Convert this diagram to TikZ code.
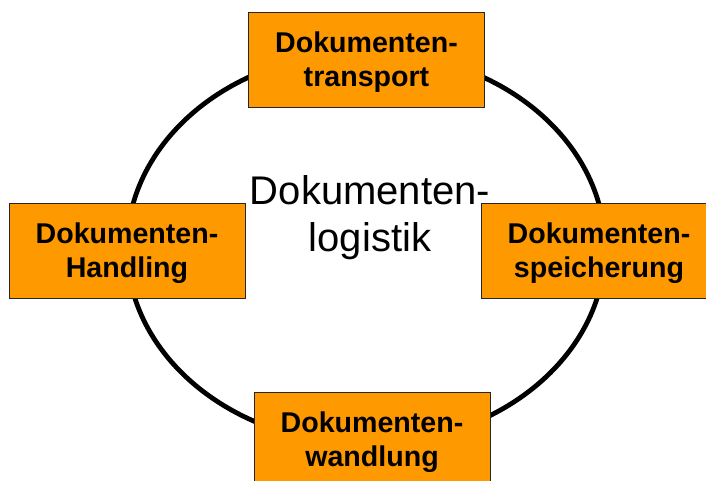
\documentclass[tikz,border=0pt]{standalone}
\usepackage{fontspec}
\setmainfont{Liberation Sans}
\usepackage{xcolor}
\usepackage{tikz}
\definecolor{orangeDoku}{RGB}{255,153,0}

\begin{document}
\begin{tikzpicture}[
    x=1pt, y=-1pt,
    box/.style={draw=black!85, line width=0.8pt, fill=orangeDoku, align=center,
                minimum width=236pt, minimum height=95pt, inner sep=0pt, text depth=0pt,
                font=\bfseries\fontsize{28.6}{34}\selectfont},
    ring/.style={line width=4.8pt}
]
    \useasboundingbox (0,0) rectangle (706,480);
    \coordinate (mitte) at (366,248);
    \draw[ring] (mitte) ellipse [x radius=239, y radius=196];
    \node[font=\fontsize{40}{47}\selectfont, align=center, inner sep=0pt] (logistik) at (370,218) {Dokumenten-\\logistik};
    \node[box] (transport) at (366.5,59.5) {Dokumenten-\\transport};
    \node[box] (handling) at (127,250.5) {Dokumenten-\\Handling};
    \node[box] (speicher) at (599,250.5) {Dokumenten-\\speicherung};
    \node[box] (wandlung) at (372,439.5) {Dokumenten-\\wandlung};
\end{tikzpicture}
\end{document}
